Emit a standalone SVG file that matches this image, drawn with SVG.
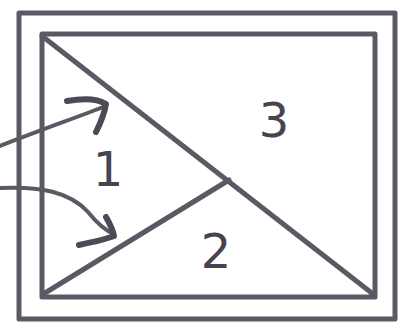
<svg xmlns="http://www.w3.org/2000/svg" width="401" height="323" viewBox="0 0 401 323">
<style>
.ln{fill:none;stroke:#5a5a64;stroke-width:5;stroke-linecap:round;stroke-linejoin:round}
.ar{fill:none;stroke:#5a5a64;stroke-width:4;stroke-linecap:round;stroke-linejoin:round}
.hd{fill:none;stroke:#4e4a55;stroke-width:6;stroke-linecap:round;stroke-linejoin:round}
.lb{font-family:"DejaVu Sans",sans-serif;font-size:48px;fill:#48444f;text-anchor:middle}
</style>
<rect width="401" height="323" fill="#ffffff"/>
<g id="frame">
<rect class="ln" x="19" y="13" width="376" height="306"/>
<rect class="ln" x="42" y="34" width="333" height="263"/>
</g>
<g id="dividers">
<line class="ln" x1="42" y1="36" x2="373" y2="294"/>
<line class="ln" x1="45" y1="293" x2="229" y2="180"/>
</g>
<g id="region1"><text class="lb" x="108" y="186">1</text></g>
<g id="region2"><text class="lb" x="216" y="268">2</text></g>
<g id="region3"><text class="lb" x="274" y="137">3</text></g>
<g id="connectors">
<path class="ar" d="M0,146 C35,132 75,118 106,106"/>
<path class="hd" d="M67,101 C85,98 98,99 106,104 C104,116 100,124 96,132"/>
<path class="ar" d="M0,188 C40,186 70,192 88,212 C96,222 104,230 114,234"/>
<path class="hd" d="M106,217 C110,224 113,230 114,236 C104,240 92,242 79,245"/>
</g>
</svg>
